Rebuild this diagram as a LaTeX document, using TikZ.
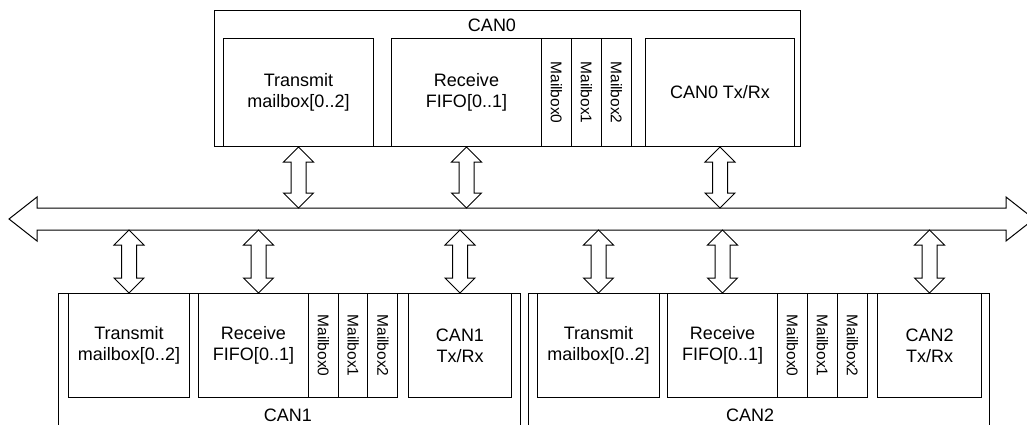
\documentclass[tikz,border=0pt]{standalone}
\usepackage{fontspec}
\setmainfont{Liberation Sans}
\usetikzlibrary{calc}

% hollow double arrow from #1 (upper end) down to #2 (lower end)
\newcommand{\dlink}[2]{%
  \draw[link] (#1) -- ($(#1)+(-15,15)$) -- ($(#1)+(-7.5,15)$)
    -- ($(#2)+(-7.5,-15)$) -- ($(#2)+(-15,-15)$) -- (#2)
    -- ($(#2)+(15,-15)$) -- ($(#2)+(7.5,-15)$)
    -- ($(#1)+(7.5,15)$) -- ($(#1)+(15,15)$) -- cycle;}

\begin{document}
\begin{tikzpicture}[x=1pt,y=-1pt]
              \tikzstyle{block}=[draw,line width=1pt,fill=white,inner sep=0pt,anchor=north west,align=center,font=\fontsize{18}{21}\selectfont]
              \tikzstyle{mailbox}=[block,minimum width=30,font=\fontsize{15.5}{18}\selectfont]
              \tikzstyle{title}=[inner sep=0pt,font=\fontsize{18}{21}\selectfont]
              \tikzstyle{link}=[line width=1pt,fill=white,line join=miter]

              \useasboundingbox (0,0) rectangle (1027,425);
              \clip (0,0) rectangle (1027,425);

              % CONSTANTS
              \coordinate (busL) at (9,219);
              \coordinate (busR) at (1034,219);
              \coordinate (bustop) at (0,208);
              \coordinate (busbot) at (0,230);

              % CAN0
              \node[block,minimum width=586,minimum height=136] (can0) at (214,10) {};
              \node[title] (can0lbl) at (492,25) {CAN0};
              \node[block,minimum width=150,minimum height=108] (tx0) at (223,38) {Transmit\\mailbox[0..2]};
              \node[block,minimum width=150,minimum height=108] (rx0) at (391,38) {Receive\\FIFO[0..1]};
              \foreach \i in {0,1,2}
                \node[mailbox,minimum height=108] (mb0\i) at (541+30*\i,38) {\rotatebox{-90}{Mailbox\i}};
              \node[block,minimum width=149,minimum height=108] (trx0) at (645,38) {CAN0 Tx/Rx};

              % CAN1
              \node[block,minimum width=462,minimum height=160] (can1) at (58,293) {};
              \node[title] (can1lbl) at (288,415) {CAN1};
              \node[block,minimum width=121,minimum height=104] (tx1) at (68,293) {Transmit\\mailbox[0..2]};
              \node[block,minimum width=110,minimum height=104] (rx1) at (198,293) {Receive\\FIFO[0..1]};
              \foreach \i in {0,1,2}
                \node[mailbox,minimum height=104] (mb1\i) at (308+29.7*\i,293) {\rotatebox{-90}{Mailbox\i}};
              \node[block,minimum width=103,minimum height=104] (trx1) at (408,293) {CAN1\\Tx/Rx};

              % CAN2
              \node[block,minimum width=461,minimum height=160] (can2) at (528,293) {};
              \node[title] (can2lbl) at (750,415) {CAN2};
              \node[block,minimum width=122,minimum height=104] (tx2) at (537,293) {Transmit\\mailbox[0..2]};
              \node[block,minimum width=110,minimum height=104] (rx2) at (667,293) {Receive\\FIFO[0..1]};
              \foreach \i in {0,1,2}
                \node[mailbox,minimum height=104] (mb2\i) at (777+30*\i,293) {\rotatebox{-90}{Mailbox\i}};
              \node[block,minimum width=104,minimum height=104] (trx2) at (877,293) {CAN2\\Tx/Rx};

              % bus
              \draw[link] (busL) -- ++(28,-22) -- ++(0,11) -- ($(busR)+(-28,-11)$) -- ++(0,-11) -- (busR)
                -- ++(-28,22) -- ++(0,-11) -- ($(busL)+(28,11)$) -- ++(0,11) -- cycle;

              % links to the bus
              \coordinate (rx1port) at ([xshift=5]rx1.north);
              \dlink{tx0.south}{tx0.south |- bustop}
              \dlink{rx0.south}{rx0.south |- bustop}
              \dlink{trx0.south}{trx0.south |- bustop}
              \dlink{tx1.north |- busbot}{tx1.north}
              \dlink{rx1port |- busbot}{rx1port}
              \dlink{trx1.north |- busbot}{trx1.north}
              \dlink{tx2.north |- busbot}{tx2.north}
              \dlink{rx2.north |- busbot}{rx2.north}
              \dlink{trx2.north |- busbot}{trx2.north}
            \end{tikzpicture}
\end{document}
